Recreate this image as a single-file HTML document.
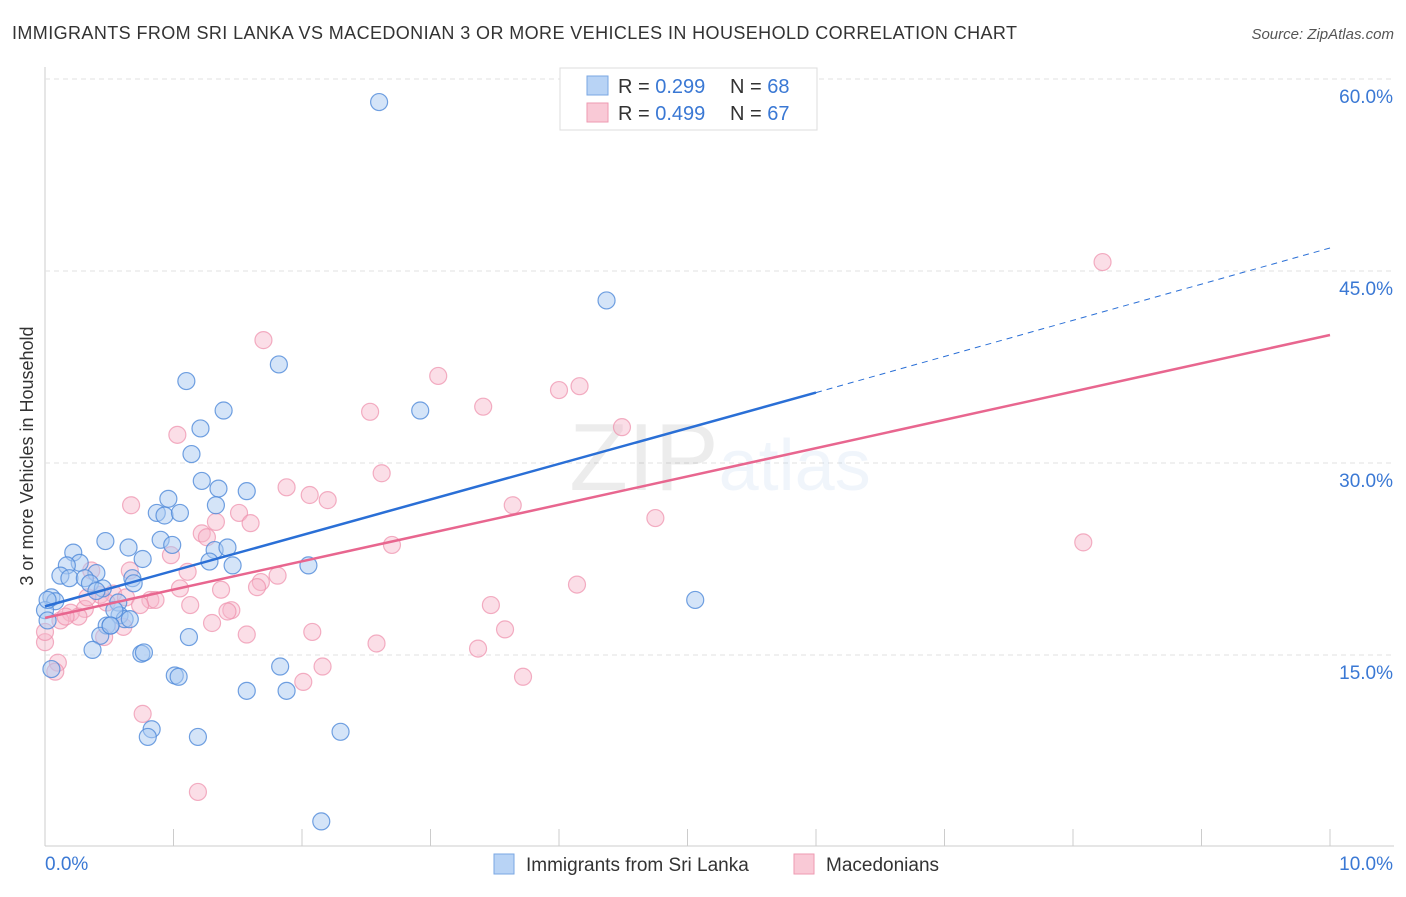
<!DOCTYPE html>
<html><head><meta charset="utf-8"><style>
body{margin:0;background:#fff;font-family:"Liberation Sans",sans-serif;}
svg text{font-family:"Liberation Sans",sans-serif;}
</style></head><body>
<svg width="1406" height="892" xmlns="http://www.w3.org/2000/svg" id="chart">
<text x="12" y="39" font-size="18" fill="#333" textLength="1005" lengthAdjust="spacing">IMMIGRANTS FROM SRI LANKA VS MACEDONIAN 3 OR MORE VEHICLES IN HOUSEHOLD CORRELATION CHART</text>
<text x="1394" y="39" font-size="15" fill="#555" font-style="italic" text-anchor="end">Source: ZipAtlas.com</text>
<text x="33" y="456" font-size="18" fill="#333" text-anchor="middle" transform="rotate(-90 33 456)">3 or more Vehicles in Household</text>
<g id="grid"></g>
<text x="720" y="490" font-size="96" fill="#000" opacity="0.07" text-anchor="middle" font-family="Liberation Serif">ZIP<tspan fill="#3a7bd5" opacity="1.6" font-family="Liberation Sans" font-size="72">atlas</tspan></text>
<g id="points"></g>
<g id="lines"></g>
<g>
<rect x="560" y="68" width="257" height="62" fill="#fff" stroke="#ddd"/>
<rect x="587" y="76" width="21" height="19" fill="#b8d3f5" stroke="#7aa7e3"/>
<text x="618" y="93" font-size="20" fill="#333">R = <tspan fill="#3a78d4">0.299</tspan></text>
<text x="730" y="93" font-size="20" fill="#333">N = <tspan fill="#3a78d4">68</tspan></text>
<rect x="587" y="103" width="21" height="19" fill="#f9c9d6" stroke="#ee9ab2"/>
<text x="618" y="120" font-size="20" fill="#333">R = <tspan fill="#3a78d4">0.499</tspan></text>
<text x="730" y="120" font-size="20" fill="#333">N = <tspan fill="#3a78d4">67</tspan></text>
</g>
<g>
<rect x="494" y="854" width="20" height="20" fill="#b8d3f5" stroke="#7aa7e3"/>
<text x="526" y="871" font-size="19" fill="#333">Immigrants from Sri Lanka</text>
<rect x="794" y="854" width="20" height="20" fill="#f9c9d6" stroke="#ee9ab2"/>
<text x="826" y="871" font-size="19" fill="#333">Macedonians</text>
</g>
</svg>
<script>
const yTicks=[15,30,45,60];
const xTickLabels=["0.0%","10.0%"];
const blueX=[2.6,4.37,1.82,1.1,1.39,2.92,1.21,1.14,1.22,0.96,1.35,1.57,0.87,0.93,1.05,1.33,0.47,0.65,0.9,0.99,0.76,1.32,1.42,1.28,1.46,0.22,0.27,0.17,0.4,0.12,0.19,0.31,0.35,0.45,0.68,0.69,0.4,0.57,2.05,0.05,0.08,0.58,0.62,0.54,0.48,0.51,0.43,0.37,1.12,0.75,0.77,1.01,1.04,5.06,1.83,1.57,1.88,0.83,0.8,1.19,2.3,2.15,0.0,0.05,0.02,0.51,0.66,0.02];
const blueY=[58.2,42.7,37.7,36.4,34.1,34.1,32.7,30.7,28.6,27.2,28.0,27.8,26.1,25.9,26.1,26.7,23.9,23.4,24.0,23.6,22.5,23.2,23.4,22.3,22.0,23.0,22.2,22.0,21.4,21.2,21.0,21.0,20.6,20.2,21.0,20.6,20.0,19.1,22.0,19.5,19.2,18.1,17.8,18.5,17.3,17.3,16.5,15.4,16.4,15.1,15.2,13.4,13.3,19.3,14.1,12.2,12.2,9.2,8.6,8.6,9.0,2.0,18.5,13.9,17.7,17.3,17.8,19.3];
const pinkX=[8.23,1.7,3.06,4.16,4.0,3.41,2.53,4.49,1.03,2.62,1.88,2.06,2.2,0.67,3.64,4.75,1.51,1.6,1.33,1.22,1.26,2.7,0.98,8.08,1.11,0.36,0.66,1.81,1.68,1.65,4.14,1.05,0.82,0.86,0.53,0.63,0.43,1.13,1.37,3.47,0.31,0.2,0.26,0.12,0.16,1.3,1.45,1.42,0.61,0.46,1.57,2.08,3.58,0.0,0.1,2.58,3.37,2.16,2.01,3.72,0.76,0.08,1.19,0.0,0.74,0.33,0.48];
const pinkY=[45.7,39.6,36.8,36.0,35.7,34.4,34.0,32.8,32.2,29.2,28.1,27.5,27.1,26.7,26.7,25.7,26.1,25.3,25.4,24.5,24.2,23.6,22.8,23.8,21.5,21.6,21.6,21.2,20.7,20.3,20.5,20.2,19.3,19.3,19.8,19.5,19.7,18.9,20.1,18.9,18.6,18.3,18.0,17.7,18.0,17.5,18.5,18.4,17.2,16.4,16.6,16.8,17.0,16.0,14.4,15.9,15.5,14.1,12.9,13.3,10.4,13.7,4.3,16.8,18.9,19.5,19.1];
const blueFit=[18.8,35.5,46.8];
const pinkFit=[17.9,40.0];
const NS="http://www.w3.org/2000/svg";
const X0=45,X1=1330,Y0=847,PPY=12.8;
const xs=v=>X0+(X1-X0)*v/10;
const ys=v=>Y0-v*PPY;
function mk(tag,attrs,parent){const e=document.createElementNS(NS,tag);for(const k in attrs)e.setAttribute(k,attrs[k]);parent.appendChild(e);return e;}
const grid=document.getElementById('grid');
const ax=mk('line',{x1:45,y1:67,x2:45,y2:846,stroke:'#ccc'},grid);


const bx=mk('line',{x1:45,y1:846,x2:1394,y2:846,stroke:'#ccc'},grid);


for(let i=1;i<=10;i++){const t=mk('line',{x1:xs(i),y1:829,x2:xs(i),y2:846,stroke:'#ccc'},grid);

}
yTicks.forEach(v=>{const g=mk('line',{x1:45,y1:ys(v),x2:1394,y2:ys(v),stroke:'#e2e2e2','stroke-dasharray':'5,4'},grid);


const t=mk('text',{x:1393,y:ys(v)+24,'font-size':19,fill:'#3a78d4','text-anchor':'end'},grid);t.textContent=v.toFixed(1)+'%';

});
const xl0=mk('text',{x:45,y:870,'font-size':19,fill:'#3a78d4'},grid);xl0.textContent=xTickLabels[0];


const xl1=mk('text',{x:1393,y:870,'font-size':19,fill:'#3a78d4','text-anchor':'end'},grid);xl1.textContent=xTickLabels[1];


const pts=document.getElementById('points');
pinkX.forEach((x,i)=>{const c=mk('circle',{cx:xs(x),cy:ys(pinkY[i]),r:8.5,fill:'#f7b6c9','fill-opacity':0.45,stroke:'#ee8fab','stroke-opacity':0.7,'stroke-width':1.2},pts);

});
blueX.forEach((x,i)=>{const c=mk('circle',{cx:xs(x),cy:ys(blueY[i]),r:8.5,fill:'#a9c9f2','fill-opacity':0.5,stroke:'#4f89d9','stroke-opacity':0.8,'stroke-width':1.2},pts);

});
const ln=document.getElementById('lines');
const bl=mk('line',{x1:xs(0),y1:ys(blueFit[0]),x2:xs(6),y2:ys(blueFit[1]),stroke:'#2a6fd6','stroke-width':2.5},ln);


const bd=mk('line',{x1:xs(6),y1:ys(blueFit[1]),x2:xs(10),y2:ys(blueFit[2]),stroke:'#2a6fd6','stroke-width':1,'stroke-dasharray':'6,5'},ln);


const pl=mk('line',{x1:xs(0),y1:ys(pinkFit[0]),x2:xs(10),y2:ys(pinkFit[1]),stroke:'#e8668f','stroke-width':2.5},ln);


</script>
</body></html>
